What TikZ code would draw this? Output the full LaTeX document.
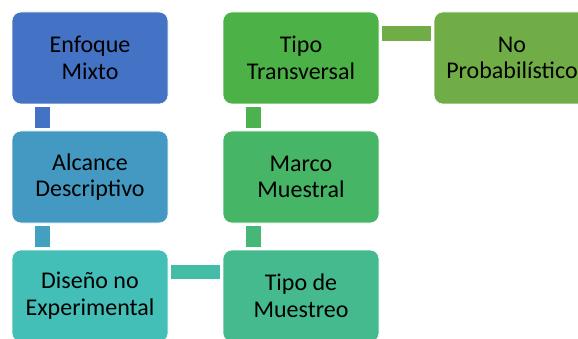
\documentclass[tikz,border=0pt]{standalone}
\usepackage{fontspec}
\setmainfont{Carlito}
\usepackage{xcolor}
\usetikzlibrary{positioning,calc}

\definecolor{enfoquecol}{HTML}{4472C4}
\definecolor{alcancecol}{HTML}{4399C1}
\definecolor{disenocol}{HTML}{44BFB8}
\definecolor{muestreocol}{HTML}{45BA8E}
\definecolor{marcocol}{HTML}{47B566}
\definecolor{tipocol}{HTML}{4CB147}
\definecolor{probcol}{HTML}{70AD47}

\begin{document}
\begin{tikzpicture}[x=1pt,y=1pt,
  box/.style={draw=white,line width=0.6pt,rounded corners=9pt,minimum width=156pt,minimum height=92pt,align=center,font=\fontsize{24}{26.7}\selectfont,text=black},
  link/.style={line width=15pt}]
  \useasboundingbox (0,0) rectangle (578,-339);

  \node[box,fill=enfoquecol] (enfoque) at (90,-58) {Enfoque\\Mixto};
  \node[box,fill=alcancecol] (alcance) at (90,-177) {Alcance\\Descriptivo};
  \node[box,fill=disenocol] (diseno) at (90,-296) {Diseño no\\Experimental};
  \node[box,fill=muestreocol] (muestreo) at (301,-296) {Tipo de\\Muestreo};
  \node[box,fill=marcocol] (marco) at (301,-177) {Marco\\Muestral};
  \node[box,fill=tipocol] (tipo) at (301,-58) {Tipo\\Transversal};
  \node[box,fill=probcol] (prob) at (512,-58) {No\\Probabilístico};

  \draw[link,enfoquecol] ($(enfoque.south west)+(30.5,-3)$) -- ($(alcance.north west)+(30.5,3)$);
  \draw[link,alcancecol!80!disenocol] ($(alcance.south west)+(30.5,-3)$) -- ($(diseno.north west)+(30.5,3)$);
  \draw[link,line width=14pt,disenocol!60!muestreocol] ($(diseno.north east)+(3,-22)$) -- ($(muestreo.north west)+(-3,-22)$);
  \draw[link,muestreocol!40!marcocol] ($(muestreo.north west)+(30.5,3)$) -- ($(marco.south west)+(30.5,-3)$);
  \draw[link,marcocol!20!tipocol] ($(marco.north west)+(30.5,3)$) -- ($(tipo.south west)+(30.5,-3)$);
  \draw[link,probcol] ($(tipo.north east)+(3,-21.5)$) -- ($(prob.north west)+(-3,-21.5)$);
\end{tikzpicture}
\end{document}
